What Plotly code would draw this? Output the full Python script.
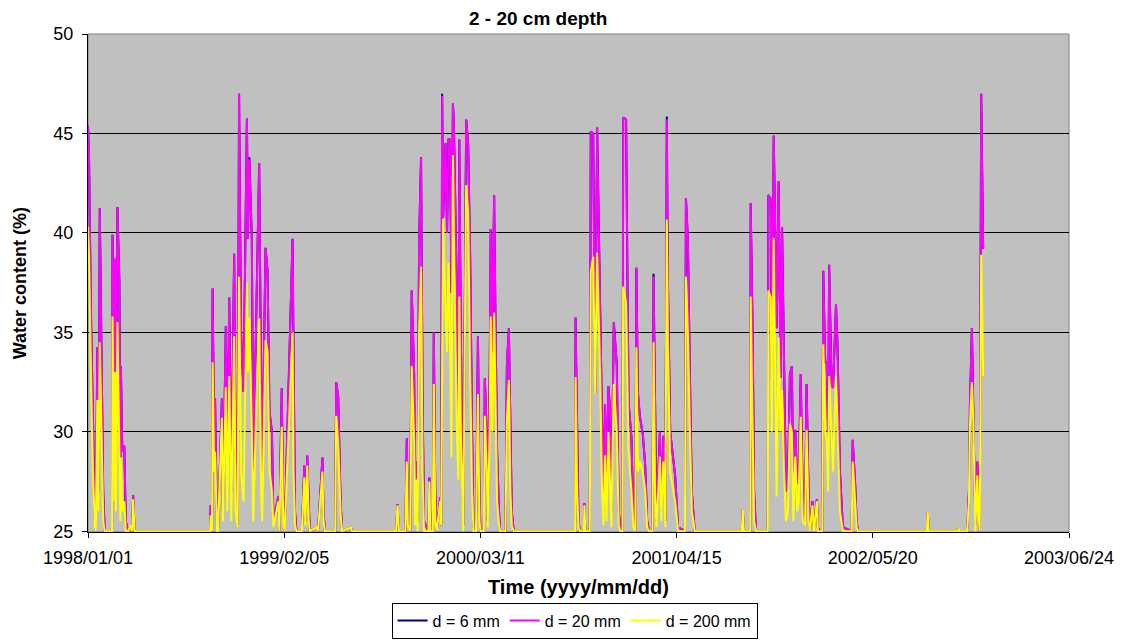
import pandas as pd
import plotly.graph_objects as go

# ---------------- data ----------------
start_date = "1998/01/01"
tick_labels = ["1998/01/01", "1999/02/05", "2000/03/11", "2001/04/15", "2002/05/20", "2003/06/24"]
y_ticks = [25, 30, 35, 40, 45, 50]

# day number counted from start_date
days = [
    0, 2, 6, 10, 14, 16, 19, 21, 24, 28, 31, 34, 49, 50, 54, 55, 57, 60, 64, 66, 67, 70, 74, 77, 82, 86, 90, 92, 95, 249,
    250, 253, 254, 257, 259, 263, 265, 273, 275, 281, 284, 288, 292, 298, 301, 305, 308, 312, 317, 324, 326, 329, 334, 337,
    344, 349, 353, 355, 362, 366, 370, 375, 378, 388, 390, 395, 398, 401, 417, 419, 422, 425, 436, 441, 443, 447, 450, 452,
    466, 469, 478, 480, 483, 504, 506, 510, 515, 518, 536, 538, 628,
    631, 634, 647, 650, 652, 657, 660, 665, 667, 669, 672, 675, 679, 682, 685, 694, 696, 698, 703, 705, 708, 711, 718, 720,
    722, 724, 729, 732, 735, 738, 741, 744, 746, 752, 755, 757, 760, 765, 771, 775, 779, 783, 786, 791, 795, 798, 800, 807,
    809, 813, 815, 819, 821, 824, 828, 831, 834, 838, 840, 851, 854, 858, 861, 864, 868, 993,
    994, 997, 1000, 1003, 1011, 1012, 1014, 1023, 1025, 1030, 1034, 1038, 1044, 1048, 1051, 1054, 1057, 1061, 1064, 1067,
    1072, 1078, 1082, 1085, 1090, 1091, 1097, 1102, 1108, 1112, 1116, 1118, 1121, 1125, 1131, 1136, 1140, 1144, 1151, 1153,
    1156, 1159, 1166, 1169, 1173, 1177, 1180, 1182, 1187, 1197, 1203, 1217, 1219, 1223, 1227, 1231, 1237, 1333,
    1335, 1337, 1350, 1351, 1355, 1358, 1362, 1386, 1387, 1392, 1394, 1398, 1401, 1404, 1408, 1412, 1415, 1419, 1423, 1427,
    1431, 1435, 1438, 1442, 1446, 1449, 1453, 1457, 1462, 1465, 1469, 1472, 1477, 1480, 1486, 1488, 1492, 1497, 1499, 1503,
    1506, 1509, 1511, 1516, 1519, 1525, 1528, 1533, 1539, 1557, 1559, 1564, 1567, 1570, 1710,
    1712, 1714, 1774, 1775, 1776, 1792, 1793, 1796, 1798, 1802, 1805, 1809, 1813, 1815, 1818, 1821, 1823, 1825,
]

# water content (%) at d = 20 mm
d20 = [
    45.4, 44.0, 36, 30, 25.5, 25, 34.25, 27, 41.25, 33, 27, 25, 25, 39.9, 33, 38.7, 30, 41.3, 37.5, 28, 33.3, 29, 29.3, 25.5, 25, 25.3, 25, 26.8, 25, 25,
    26.3, 25, 37.2, 30, 31.7, 25, 25, 31.7, 26, 35.3, 28, 36.75, 27, 38.95, 29, 25.3, 47.0, 35, 32, 45.75, 39.7, 43.7, 39.7, 28,
    36.25, 43.5, 32, 28, 39.25, 38.1, 31, 30, 25.5, 26.75, 25, 32.2, 26, 25, 39.7, 33, 26, 25, 25, 28.3, 25.5, 28.8, 26, 25,
    25.2, 25, 28.7, 26, 25, 25, 32.5, 31.8, 26.5, 25, 25.2, 25, 25,
    26.35, 25, 25, 29.67, 25.5, 25, 37.1, 32.8, 26, 28.5, 25.5, 39.5, 43.8, 32, 25.5, 25, 27.7, 25.3, 25, 35, 27, 25, 26.7, 25.3,
    46.9, 40.75, 44.5, 40, 44.7, 44.7, 37, 46.5, 45.5, 36.8, 30, 44.7, 35, 25.3, 45.7, 44.5, 39, 30, 25.2, 25, 34.8, 27, 25, 25,
    32.7, 29.8, 25.5, 33, 40.2, 34, 41.9, 35, 29, 26, 25, 25, 33.3, 35.2, 30, 26, 25, 25,
    35.75, 29, 25.5, 25, 25, 26.4, 25, 25, 45.1, 45.0, 31.9, 45.3, 36.8, 30.9, 26, 31.4, 27, 32.3, 31.2, 26,
    35.5, 33.4, 26, 25.3, 25, 45.8, 45.7, 31.5, 29.7, 25.5, 25, 38.25, 32, 30.8, 29.9, 28.3, 25.5, 25, 25, 37.8,
    30, 25.5, 30, 26, 29.8, 25.5, 45.7, 38, 30, 27.8, 25.2, 25, 41.75, 39.7, 33, 27, 25, 25,
    26.1, 25, 25, 41.5, 35, 27, 25, 25, 41.9, 41.7, 32.7, 44.9, 40.25, 35.2, 42.6, 32.7, 40.3, 33.2, 27, 27.5,
    32.9, 33.3, 26.7, 30.1, 27.5, 27.4, 32.9, 26.7, 25.5, 32.4, 27, 25, 26.5, 25.2, 26.6, 25.2, 25, 25, 38.1, 33.5,
    33.5, 30, 38.4, 32.4, 32.2, 36.4, 34.4, 28, 25.2, 25, 29.6, 27.4, 25.5, 25, 25,
    26.0, 25, 25, 25.2, 25, 25, 25.3, 27, 31.3, 35.2, 31, 25.3, 28.5, 26.5, 25, 47.0, 42.8, 39.2,
]

# water content (%) at d = 200 mm
d200 = [
    40.3, 38.9, 33, 28, 25.2, 25, 31.6, 26, 34.5, 29, 25.5, 25, 25, 35.8, 26.5, 33, 26, 35.5, 30, 25.5, 28.7, 26, 26.5, 25, 25, 25.3, 25, 26.6, 25, 25,
    25.8, 25, 33.5, 28, 29, 25, 25, 30.7, 25.5, 32.25, 26, 32.8, 25.5, 34.8, 26, 25.2, 37.8, 28, 26.5, 37.5, 33, 35.75, 30, 25.5,
    32, 35.7, 27, 25.5, 34.6, 34, 28, 27, 25.2, 26.5, 25, 30.25, 25.5, 25, 35.0, 28, 25.3, 25, 25, 27.7, 25.3, 28.3, 25.5, 25,
    25.2, 25, 28, 25.5, 25, 25, 30.8, 29.5, 25.8, 25, 25.2, 25, 25,
    26.3, 25, 25, 28.5, 25.3, 25, 33.3, 29.5, 25.3, 27.6, 25, 35, 38.3, 28, 25, 25, 27.5, 25, 25, 32.4, 25.5, 25, 26.5, 25.3,
    37.6, 40.7, 36, 34, 38.5, 35, 28.7, 43.9, 40, 30, 27.6, 36.8, 30, 25, 42.4, 41.05, 33, 27, 25, 25, 31.9, 25.5, 25, 25,
    30.8, 28, 25.2, 30, 35.8, 30, 36, 30, 26.5, 25.3, 25, 25, 30.5, 32.6, 27, 25.3, 25, 25,
    32.75, 27, 25.2, 25, 25, 26.3, 25, 25, 38.0, 38.8, 31.9, 39, 33, 27, 25.3, 28.8, 25.5, 30, 27.5, 25.2,
    32.4, 30, 25.3, 25, 25, 37.3, 36.5, 29, 27, 25.2, 25, 34.25, 28, 28.5, 28, 27, 25.2, 25, 25, 34.5,
    27, 25.2, 28.75, 25.5, 28.5, 25.2, 40.67, 35, 28, 26.5, 25, 25, 37.8, 35, 30, 26, 25, 25,
    26.1, 25, 25, 36.8, 30, 25.5, 25, 25, 37.1, 36.75, 30, 39.75, 33, 26.75, 34.75, 30, 32.1, 28, 25.5, 26,
    30.4, 30, 25.5, 28.75, 26, 26.5, 30.75, 25.5, 25.3, 30.1, 25.5, 25, 26.3, 25, 26.5, 25, 25, 25, 34.4, 30,
    29.6, 27, 32.8, 29.6, 28, 32.8, 30, 26, 25, 25, 28.5, 26, 25.2, 25, 25,
    26.0, 25, 25, 25.2, 25, 25, 25.3, 26.5, 30.3, 32.5, 30.5, 25, 27.8, 26, 25, 38.9, 36, 32.8,
]

# d = 6 mm follows the d = 20 mm curve; it only shows at a few peak tips
d6_peak_tips = {329: 43.8, 722: 47.0, 1153: 37.95, 1180: 45.85}

assert len(days) == len(d20) == len(d200), (len(days), len(d20), len(d200))

# ---------------- build figure ----------------
t0 = pd.to_datetime(start_date, format="%Y/%m/%d")
dates = t0 + pd.to_timedelta(days, unit="D")
d6 = [d6_peak_tips.get(d, v) for d, v in zip(days, d20)]
tick_vals = pd.to_datetime(tick_labels, format="%Y/%m/%d")

FONT = "Arial, 'Liberation Sans', sans-serif"

fig = go.Figure()
fig.add_trace(go.Scatter(x=dates, y=d6, mode="lines", name="d = 6 mm",
                         line=dict(color="#000080", width=2)))
fig.add_trace(go.Scatter(x=dates, y=d20, mode="lines", name="d = 20 mm",
                         line=dict(color="#FF00FF", width=2)))
fig.add_trace(go.Scatter(x=dates, y=d200, mode="lines", name="d = 200 mm",
                         line=dict(color="#FFFF00", width=2)))

fig.update_layout(
    width=1116, height=632, autosize=False,
    margin=dict(l=80, r=55, t=26, b=108, autoexpand=False),
    paper_bgcolor="white", plot_bgcolor="#C0C0C0",
    font=dict(family=FONT, size=17, color="black"),
    showlegend=True,
    legend=dict(orientation="h", x=0.496, xanchor="center", y=-0.142, yanchor="top",
                bordercolor="black", borderwidth=1, bgcolor="white",
                font=dict(family=FONT, size=16, color="black"), itemwidth=30),
    xaxis=dict(range=[tick_vals[0], tick_vals[-1]], tickmode="array", tickvals=tick_vals,
               ticktext=tick_labels, showgrid=False, zeroline=False, showline=True,
               linecolor="black", linewidth=1, ticks="outside", ticklen=5, tickcolor="black",
               ticklabelstandoff=4,
               tickfont=dict(family=FONT, size=18, color="black"), layer="below traces"),
    yaxis=dict(range=[24.96, 50], tickmode="array", tickvals=y_ticks, showgrid=True,
               gridcolor="black", gridwidth=1, zeroline=False, showline=True, linecolor="black",
               linewidth=1, ticks="outside", ticklen=5, tickcolor="black", ticklabelstandoff=5,
               tickfont=dict(family=FONT, size=18, color="black"), layer="below traces"),
    shapes=[dict(type="rect", xref="paper", yref="paper", x0=0, x1=1, y0=0, y1=1,
                 line=dict(color="#808080", width=1), layer="below")],
    annotations=[
        dict(text="<b>2 - 20 cm depth</b>", xref="paper", yref="paper", x=0.459, y=1.032,
             xanchor="center", yanchor="middle", showarrow=False, font=dict(family=FONT, size=19)),
        dict(text="<b>Water content (%)</b>", xref="paper", yref="paper", x=-0.069, y=0.5,
             xanchor="center", yanchor="middle", textangle=-90, showarrow=False,
             font=dict(family=FONT, size=18)),
        dict(text="<b>Time (yyyy/mm/dd)</b>", xref="paper", yref="paper", x=0.4995, y=-0.110,
             xanchor="center", yanchor="middle", showarrow=False, font=dict(family=FONT, size=20)),
    ],
)

fig.write_html("out.html")
